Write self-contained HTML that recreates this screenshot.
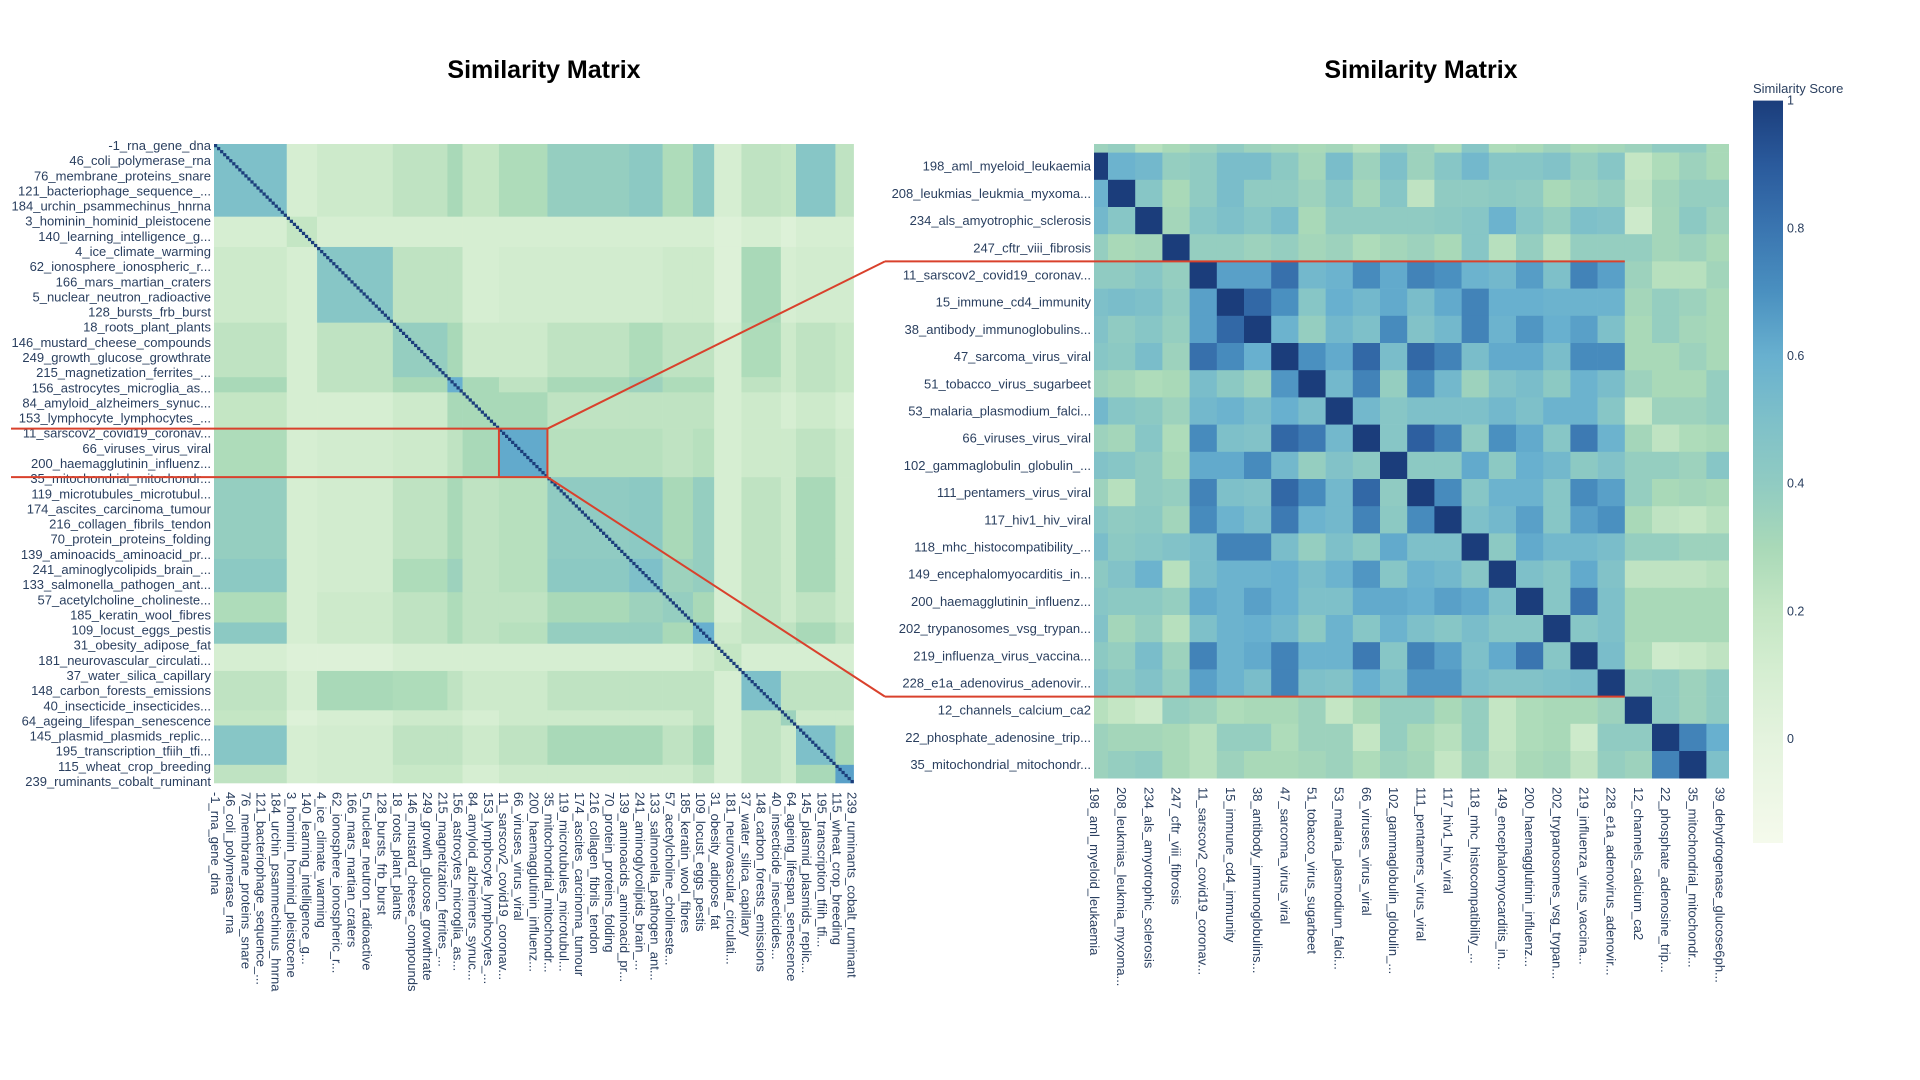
<!DOCTYPE html>
<html><head><meta charset="utf-8">
<style>
html,body{margin:0;padding:0;background:#fff;}
svg{display:block;font-family:"Liberation Sans",sans-serif;}
</style></head>
<body>
<svg id="chart" width="1920" height="1080" viewBox="0 0 1920 1080">
<defs>
<clipPath id="clipR"><rect x="1094" y="144" width="635" height="635"/></clipPath>
<linearGradient id="cbGrad" x1="0" y1="1" x2="0" y2="0">
</linearGradient>
</defs>
<text x="544" y="78" text-anchor="middle" font-size="25" font-weight="bold" fill="#000">Similarity Matrix</text>
<text x="1421" y="78" text-anchor="middle" font-size="25" font-weight="bold" fill="#000">Similarity Matrix</text>
<g id="left"></g>
<g id="leftLabels"></g>
<g id="right" clip-path="url(#clipR)"></g>
<g id="rightLabels"></g>
<g id="zoomLines"></g>
<g id="colorbar"></g>
</svg>
<script>
// ---------- data: left (full) matrix, block-level ----------
const leftLabels = ["-1_rna_gene_dna","46_coli_polymerase_rna","76_membrane_proteins_snare","121_bacteriophage_sequence_...","184_urchin_psammechinus_hnrna","3_hominin_hominid_pleistocene","140_learning_intelligence_g...","4_ice_climate_warming","62_ionosphere_ionospheric_r...","166_mars_martian_craters","5_nuclear_neutron_radioactive","128_bursts_frb_burst","18_roots_plant_plants","146_mustard_cheese_compounds","249_growth_glucose_growthrate","215_magnetization_ferrites_...","156_astrocytes_microglia_as...","84_amyloid_alzheimers_synuc...","153_lymphocyte_lymphocytes_...","11_sarscov2_covid19_coronav...","66_viruses_virus_viral","200_haemagglutinin_influenz...","35_mitochondrial_mitochondr...","119_microtubules_microtubul...","174_ascites_carcinoma_tumour","216_collagen_fibrils_tendon","70_protein_proteins_folding","139_aminoacids_aminoacid_pr...","241_aminoglycolipids_brain_...","133_salmonella_pathogen_ant...","57_acetylcholine_cholineste...","185_keratin_wool_fibres","109_locust_eggs_pestis","31_obesity_adipose_fat","181_neurovascular_circulati...","37_water_silica_capillary","148_carbon_forests_emissions","40_insecticide_insecticides...","64_ageing_lifespan_senescence","145_plasmid_plasmids_replic...","195_transcription_tfiih_tfi...","115_wheat_crop_breeding","239_ruminants_cobalt_ruminant"];
const leftItemCount = 211;
const labelStep = 5;
const blockStarts = [0,24,34,59,77,82,94,110,137,148,158,165,174,187,192,205];
const blockUpper = [
[0.50,0.10,0.15,0.22,0.30,0.20,0.28,0.38,0.42,0.28,0.42,0.10,0.22,0.20,0.45,0.22],
[0.20,0.10,0.10,0.10,0.10,0.10,0.10,0.10,0.10,0.10,0.05,0.10,0.05,0.10,0.10],
[0.45,0.22,0.22,0.10,0.12,0.12,0.12,0.15,0.15,0.05,0.30,0.10,0.12,0.12],
[0.38,0.30,0.15,0.15,0.22,0.28,0.22,0.22,0.10,0.28,0.15,0.22,0.18],
[0.60,0.30,0.22,0.30,0.35,0.28,0.28,0.10,0.22,0.15,0.22,0.18],
[0.30,0.30,0.22,0.22,0.22,0.22,0.10,0.15,0.10,0.15,0.10],
[0.62,0.25,0.25,0.22,0.25,0.10,0.15,0.15,0.22,0.15],
[0.40,0.42,0.30,0.38,0.10,0.22,0.15,0.30,0.15],
[0.50,0.35,0.38,0.10,0.22,0.15,0.30,0.15],
[0.38,0.30,0.10,0.22,0.15,0.22,0.15],
[0.60,0.15,0.22,0.22,0.30,0.22],
[0.20,0.10,0.10,0.10,0.10],
[0.50,0.22,0.22,0.22],
[0.35,0.15,0.15],
[0.50,0.30],
[0.65]];
const diagValue = 1;
const zoomBlockStart = 94;
const zoomBlockEnd = 110;

// ---------- data: right (zoomed) matrix ----------
const rightCols = ["198_aml_myeloid_leukaemia","208_leukmias_leukmia_myxoma...","234_als_amyotrophic_sclerosis","247_cftr_viii_fibrosis","11_sarscov2_covid19_coronav...","15_immune_cd4_immunity","38_antibody_immunoglobulins...","47_sarcoma_virus_viral","51_tobacco_virus_sugarbeet","53_malaria_plasmodium_falci...","66_viruses_virus_viral","102_gammaglobulin_globulin_...","111_pentamers_virus_viral","117_hiv1_hiv_viral","118_mhc_histocompatibility_...","149_encephalomyocarditis_in...","200_haemagglutinin_influenz...","202_trypanosomes_vsg_trypan...","219_influenza_virus_vaccina...","228_e1a_adenovirus_adenovir...","12_channels_calcium_ca2","22_phosphate_adenosine_trip...","35_mitochondrial_mitochondr...","39_dehydrogenase_glucose6ph..."];
const rightRows = rightCols.slice(0,23);
const topStripValues = [0.35,0.38,0.25,0.30,0.35,0.40,0.35,0.33,0.30,0.32,0.25,0.40,0.35,0.28,0.45,0.28,0.30,0.35,0.30,0.32,0.35,0.40,0.40,0.30];
const rightValues = [
[1,.58,.55,.38,.40,.52,.52,.42,.32,.52,.35,.50,.35,.45,.55,.45,.45,.48,.38,.45,.20,.28,.35,.30],
[.58,1,.45,.30,.40,.52,.40,.40,.35,.45,.32,.45,.22,.40,.40,.42,.40,.30,.35,.38,.22,.33,.38,.38],
[.55,.45,1,.32,.45,.50,.45,.52,.30,.40,.40,.40,.40,.42,.45,.58,.45,.38,.50,.48,.15,.32,.42,.35],
[.38,.30,.32,1,.38,.38,.35,.38,.32,.35,.28,.32,.35,.30,.45,.25,.38,.25,.38,.38,.38,.32,.35,.30],
[.40,.40,.45,.38,1,.65,.65,.82,.55,.58,.72,.62,.75,.70,.58,.55,.66,.50,.75,.65,.35,.25,.25,.33],
[.50,.52,.50,.40,.65,1,.85,.70,.45,.60,.55,.62,.52,.62,.75,.60,.60,.58,.58,.58,.32,.38,.35,.30],
[.48,.40,.45,.38,.65,.85,1,.58,.38,.55,.50,.72,.48,.55,.75,.58,.68,.60,.65,.50,.30,.38,.32,.30],
[.45,.42,.52,.35,.82,.72,.60,1,.70,.62,.85,.52,.85,.75,.52,.62,.62,.52,.72,.72,.30,.30,.35,.30],
[.35,.32,.28,.30,.52,.42,.35,.68,1,.55,.75,.38,.72,.55,.35,.48,.52,.42,.58,.52,.35,.30,.30,.38],
[.55,.45,.42,.35,.55,.58,.52,.60,.52,1,.55,.45,.50,.50,.50,.55,.50,.58,.58,.45,.20,.35,.35,.38],
[.35,.32,.45,.28,.72,.50,.48,.85,.78,.55,1,.45,.88,.75,.40,.70,.62,.45,.78,.58,.32,.22,.28,.30],
[.48,.45,.40,.30,.62,.62,.72,.55,.38,.48,.42,1,.42,.42,.62,.42,.60,.55,.42,.48,.38,.38,.35,.45],
[.35,.25,.40,.38,.75,.50,.48,.85,.72,.55,.85,.40,1,.72,.45,.58,.58,.45,.72,.65,.38,.30,.32,.30],
[.45,.40,.42,.33,.72,.58,.52,.78,.58,.55,.75,.42,.72,1,.50,.55,.65,.45,.65,.70,.30,.22,.20,.25],
[.52,.42,.45,.48,.52,.75,.75,.52,.38,.50,.42,.62,.50,.50,1,.42,.62,.55,.55,.52,.38,.38,.35,.35],
[.42,.48,.58,.25,.52,.58,.58,.60,.52,.58,.68,.45,.58,.55,.45,1,.50,.45,.62,.48,.22,.22,.22,.25],
[.45,.42,.42,.38,.62,.58,.65,.60,.50,.50,.62,.62,.60,.65,.62,.50,1,.45,.80,.50,.30,.30,.30,.30],
[.48,.32,.38,.25,.50,.58,.60,.55,.42,.58,.45,.58,.50,.45,.52,.45,.45,1,.45,.50,.30,.30,.30,.30],
[.42,.38,.52,.35,.75,.58,.62,.75,.58,.58,.78,.45,.75,.65,.50,.62,.80,.45,1,.52,.28,.15,.18,.22],
[.48,.42,.48,.38,.65,.58,.52,.75,.50,.48,.60,.50,.68,.68,.52,.48,.48,.50,.52,1,.38,.40,.35,.40],
[.25,.20,.15,.38,.35,.28,.30,.30,.35,.20,.30,.38,.38,.30,.38,.20,.28,.30,.30,.35,1,.40,.35,.40],
[.35,.32,.32,.30,.25,.38,.38,.28,.35,.35,.20,.38,.30,.25,.38,.20,.28,.30,.15,.40,.40,1,.75,.60],
[.35,.38,.40,.30,.25,.35,.30,.30,.32,.35,.28,.35,.32,.20,.35,.22,.30,.32,.22,.38,.35,.75,1,.50]];
const zoomRowStart = 4;
const zoomRowEnd = 20;

// ---------- colour scale ----------
const cbTicks = [0,0.2,0.4,0.6,0.8,1];
const zMin = -0.163, zMax = 1;
const stops = [[-0.163,[245,250,236]],[0,[228,243,222]],[0.1,[214,238,210]],[0.2,[196,230,196]],[0.3,[169,217,184]],[0.4,[144,203,194]],[0.5,[126,192,201]],[0.6,[104,176,207]],[0.7,[74,144,192]],[0.8,[58,117,176]],[0.9,[42,90,156]],[1,[27,61,123]]];
function color(v){
  v=Math.max(zMin,Math.min(zMax,v));
  for(let i=1;i<stops.length;i++){
    if(v<=stops[i][0]){const a=stops[i-1],b=stops[i];const t=(v-a[0])/(b[0]-a[0]);
      return 'rgb('+a[1].map((c,k)=>Math.round(c+(b[1][k]-c)*t)).join(',')+')';}
  }
  return 'rgb(27,61,123)';
}
const NS='http://www.w3.org/2000/svg';
function mk(tag,attrs,parent){const e=document.createElementNS(NS,tag);for(const k in attrs)e.setAttribute(k,attrs[k]);parent.appendChild(e);return e;}

// ---------- left axes ----------
const L_X0=214, L_X1=853.6, L_Y0=144, L_Y1=783;
const xL=i=>L_X0+i*(L_X1-L_X0)/leftItemCount;
const yL=i=>L_Y0+i*(L_Y1-L_Y0)/leftItemCount;
const gL=document.getElementById('left');
const nb=blockStarts.length;
function blockVal(i,j){const a=Math.min(i,j),b=Math.max(i,j);return blockUpper[a][b-a];}
for(let i=0;i<nb;i++){for(let j=0;j<nb;j++){
  const s1=blockStarts[i], e1=i+1<nb?blockStarts[i+1]:leftItemCount;
  const s2=blockStarts[j], e2=j+1<nb?blockStarts[j+1]:leftItemCount;
  const r=mk('rect',{x:xL(s2),y:yL(s1),width:xL(e2)-xL(s2)+0.3,height:yL(e1)-yL(s1)+0.3,fill:color(blockVal(i,j))},gL);
  
  
}}
for(let k=0;k<leftItemCount;k++){
  const r=mk('rect',{x:xL(k),y:yL(k),width:xL(k+1)-xL(k)+0.2,height:yL(k+1)-yL(k)+0.2,fill:color(diagValue)},gL);
  
  
}
const gLL=document.getElementById('leftLabels');
leftLabels.forEach((lab,k)=>{
  const idx=k*labelStep;
  const cy=yL(idx+0.5), cx=xL(idx+0.5);
  const t=mk('text',{x:L_X0-3,y:cy,'text-anchor':'end','dominant-baseline':'central','font-size':13,fill:'#2a3f5f'},gLL);
  t.textContent=lab;
  
  
  const u=mk('text',{x:cx,y:792,'text-anchor':'start','dominant-baseline':'central','font-size':13,fill:'#2a3f5f',transform:'rotate(90 '+cx+' 792)'},gLL);
  u.textContent=lab;
  
  
});

// ---------- right axes ----------
const R_CW=27.2, R_X0=1094.4, R_Y0=152.6;
const xR=c=>R_X0+(c-0.5)*R_CW;
const yR=r=>R_Y0+r*R_CW;
const gR=document.getElementById('right');
topStripValues.forEach((v,c)=>{
  const r=mk('rect',{x:xR(c),y:yR(-1),width:R_CW+0.3,height:R_CW+0.3,fill:color(v)},gR);
  
  
});
rightValues.forEach((row,ri)=>{row.forEach((v,c)=>{
  const r=mk('rect',{x:xR(c),y:yR(ri),width:R_CW+0.3,height:R_CW+0.3,fill:color(v)},gR);
  
  
});});
const gRL=document.getElementById('rightLabels');
rightRows.forEach((lab,ri)=>{
  const t=mk('text',{x:1091,y:yR(ri+0.5),'text-anchor':'end','dominant-baseline':'central','font-size':13,fill:'#2a3f5f'},gRL);
  t.textContent=lab;
  
  
});
rightCols.forEach((lab,c)=>{
  const cx=xR(c+0.5);
  const t=mk('text',{x:cx,y:787,'text-anchor':'start','dominant-baseline':'central','font-size':13,fill:'#2a3f5f',transform:'rotate(90 '+cx+' 787)'},gRL);
  t.textContent=lab;
  
  
});

// ---------- zoom indicator lines ----------
const gZ=document.getElementById('zoomLines');
const bx0=xL(zoomBlockStart), bx1=xL(zoomBlockEnd), by0=yL(zoomBlockStart), by1=yL(zoomBlockEnd);
const ry0=yR(zoomRowStart), ry1=yR(zoomRowEnd), rxEnd=xR(zoomRowEnd), joinX=885;
const red='#d9412c';
const lines=[
 [11,by0,bx1,by0],[11,by1,bx1,by1],[bx0,by0,bx0,by1],[bx1,by0,bx1,by1],
 [bx1,by0,joinX,ry0],[bx1,by1,joinX,ry1],[joinX,ry0,rxEnd,ry0],[joinX,ry1,rxEnd,ry1]];
lines.forEach(l=>{
  const e=mk('line',{x1:l[0],y1:l[1],x2:l[2],y2:l[3],stroke:red,'stroke-width':2},gZ);
  
  
});

// ---------- colorbar ----------
const CB_X=1753, CB_W=30, CB_TOP=100.6, CB_BOT=843;
const yCB=v=>CB_TOP+(zMax-v)/(zMax-zMin)*(CB_BOT-CB_TOP);
const grad=document.getElementById('cbGrad');
stops.forEach(s=>{mk('stop',{offset:((s[0]-zMin)/(zMax-zMin)),'stop-color':color(s[0])},grad);});
const gC=document.getElementById('colorbar');
const bar=mk('rect',{x:CB_X,y:CB_TOP,width:CB_W,height:CB_BOT-CB_TOP,fill:'url(#cbGrad)'},gC);


const ttl=mk('text',{x:CB_X,y:93,'font-size':13,fill:'#2a3f5f'},gC);
ttl.textContent='Similarity Score';


cbTicks.forEach(v=>{
  const t=mk('text',{x:CB_X+CB_W+4,y:yCB(v),'dominant-baseline':'central','font-size':12.5,fill:'#2a3f5f'},gC);
  t.textContent=String(v);
  
  
});
</script>
</body></html>
